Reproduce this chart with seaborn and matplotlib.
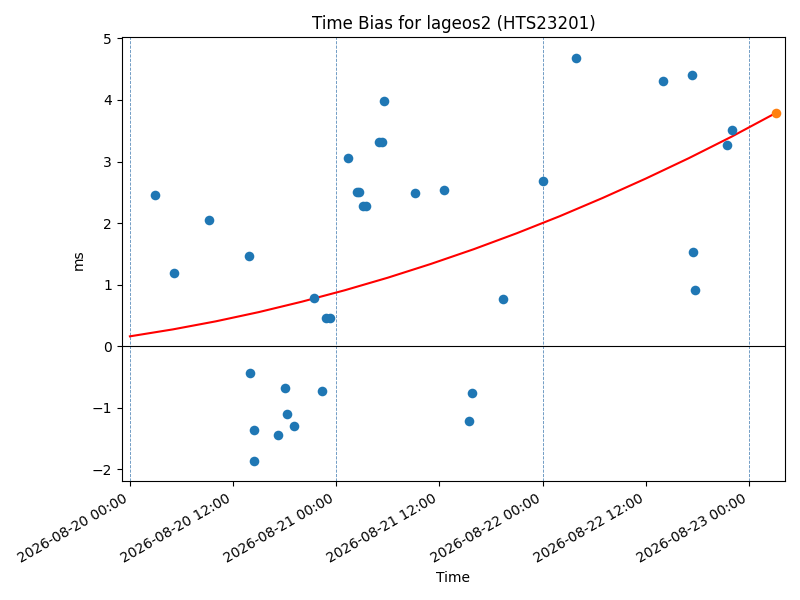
import pandas as pd
import matplotlib
matplotlib.use('Agg')
import matplotlib.pyplot as plt
import matplotlib.dates as mdates
import seaborn as sns

# Time bias observations (ms)
obs_times = ['2026-08-20 02:57', '2026-08-20 05:10', '2026-08-20 09:12', '2026-08-20 13:54',
             '2026-08-20 14:00', '2026-08-20 14:29', '2026-08-20 14:29', '2026-08-20 17:12',
             '2026-08-20 17:59', '2026-08-20 18:14', '2026-08-20 19:08', '2026-08-20 21:22',
             '2026-08-20 22:18', '2026-08-20 22:48', '2026-08-20 23:15', '2026-08-21 01:24',
             '2026-08-21 02:24', '2026-08-21 02:42', '2026-08-21 03:06', '2026-08-21 03:30',
             '2026-08-21 04:58', '2026-08-21 05:18', '2026-08-21 05:30', '2026-08-21 09:12',
             '2026-08-21 12:30', '2026-08-21 15:30', '2026-08-21 15:46', '2026-08-21 19:24',
             '2026-08-22 00:06', '2026-08-22 03:53', '2026-08-22 14:00', '2026-08-22 17:24',
             '2026-08-22 17:30', '2026-08-22 17:45', '2026-08-22 21:30', '2026-08-22 22:04']
obs_ms = [2.45, 1.19, 2.05, 1.47,
          -0.44, -1.36, -1.87, -1.445,
          -0.685, -1.105, -1.30, 0.79,
          -0.73, 0.45, 0.45, 3.05,
          2.50, 2.50, 2.28, 2.28,
          3.31, 3.31, 3.98, 2.49,
          2.535, -1.21, -0.765, 0.76,
          2.68, 4.69, 4.315, 4.41,
          1.53, 0.906, 3.27, 3.52]

# Fitted trend curve
fit_times = ['2026-08-20 00:00', '2026-08-20 05:00', '2026-08-20 10:00', '2026-08-20 15:00',
             '2026-08-20 20:00', '2026-08-21 01:00', '2026-08-21 06:00', '2026-08-21 11:00',
             '2026-08-21 16:00', '2026-08-21 21:00', '2026-08-22 02:00', '2026-08-22 07:00',
             '2026-08-22 12:00', '2026-08-22 17:00', '2026-08-22 22:00', '2026-08-23 03:09']
fit_ms = [0.16, 0.273, 0.404, 0.554, 0.723, 0.909, 1.113, 1.336,
          1.576, 1.835, 2.112, 2.409, 2.723, 3.054, 3.405, 3.79]

# Predicted point
pred_time = ['2026-08-23 03:09']
pred_ms = [3.79]

day_marks = ['2026-08-20', '2026-08-21', '2026-08-22', '2026-08-23']

obs = pd.DataFrame({'Time': pd.to_datetime(obs_times), 'ms': obs_ms})
fit = pd.DataFrame({'Time': pd.to_datetime(fit_times), 'ms': fit_ms})
pred = pd.DataFrame({'Time': pd.to_datetime(pred_time), 'ms': pred_ms})

fig, ax = plt.subplots(figsize=(8, 6), dpi=100)

for d in pd.to_datetime(day_marks):
    ax.axvline(d, color='#5b8dbb', linestyle='--', linewidth=0.6, zorder=0)
ax.axhline(0, color='black', linewidth=0.8, zorder=1)

sns.scatterplot(data=obs, x='Time', y='ms', color='C0', s=48, linewidth=0, ax=ax, zorder=3)
sns.lineplot(data=fit, x='Time', y='ms', color='red', linewidth=1.5, ax=ax, zorder=2)
sns.scatterplot(data=pred, x='Time', y='ms', color='C1', s=48, linewidth=0, ax=ax, zorder=4)

ax.set_xlim(pd.Timestamp('2026-08-19 23:04'), pd.Timestamp('2026-08-23 04:12'))
ax.xaxis.set_major_locator(mdates.HourLocator(byhour=[0, 12]))
ax.xaxis.set_major_formatter(mdates.DateFormatter('%Y-%m-%d %H:%M'))
ax.set_title('Time Bias for lageos2 (HTS23201)')
ax.set_xlabel('Time')
ax.set_ylabel('ms')
fig.autofmt_xdate()
plt.tight_layout()
plt.savefig('out.png')
